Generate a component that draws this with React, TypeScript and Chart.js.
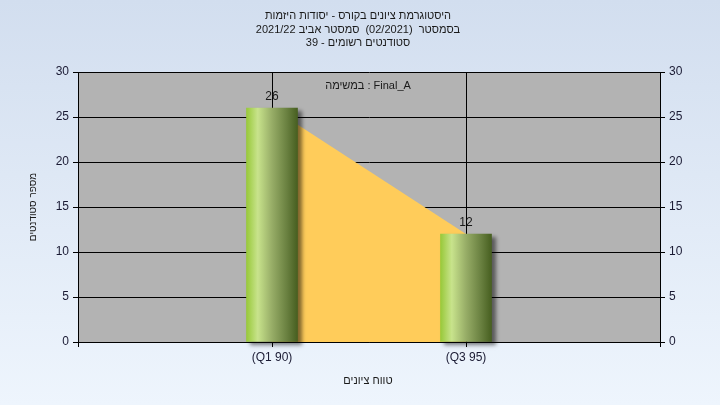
import React, { useEffect, useRef } from 'react';
import { Chart, registerables } from 'chart.js';

Chart.register(...registerables);

const categories: string[] = ['', '(Q1 90)', '(Q3 95)', ''];
const barValues: (number | null)[] = [null, 26, 12, null];
const areaValues: (number | null)[] = [null, 26, 12, null];
const titleLines: string[] = [
  'היסטוגרמת ציונים בקורס - יסודות היזמות',
  'בסמסטר  (02/2021)  סמסטר אביב 2021/22',
  'סטודנטים רשומים - 39',
];
const seriesLabel = 'במשימה : Final_A';
const xTitle = 'טווח ציונים';
const yTitle = 'מספר סטודנטים';
const yMin = 0;
const yMax = 30;
const yStep = 5;

const FONT = '"Liberation Sans", Arial, sans-serif';
const TEXT = '#1a1a1a';
const TICK = '#1a1a33';

const decorPlugin = {
  id: 'decor',
  beforeDraw(chart: any) {
    const { ctx, chartArea: a } = chart;
    ctx.save();
    ctx.fillStyle = '#b3b3b3';
    ctx.fillRect(a.left, a.top, a.right - a.left, a.bottom - a.top);
    ctx.restore();
  },
  beforeDatasetDraw(chart: any, args: any) {
    if (args.index !== 0) return;
    const ctx = chart.ctx;
    ctx.save();
    ctx.shadowColor = 'rgba(0,0,0,0.5)';
    ctx.shadowOffsetX = 4;
    ctx.shadowOffsetY = 3;
    ctx.shadowBlur = 4;
  },
  afterDatasetDraw(chart: any, args: any) {
    if (args.index !== 0) return;
    chart.ctx.restore();
  },
  afterDraw(chart: any) {
    const { ctx, chartArea: a } = chart;
    ctx.save();
    ctx.fillStyle = TEXT;
    ctx.textAlign = 'center';
    ctx.textBaseline = 'middle';
    ctx.font = `11px ${FONT}`;
    ctx.direction = 'rtl';
    const tys = [16, 30, 43];
    titleLines.forEach((t, i) => ctx.fillText(t, 358, tys[i]));
    ctx.fillText(xTitle, 368, 381);
    ctx.save();
    ctx.font = `10px ${FONT}`;
    ctx.translate(33, (a.top + a.bottom) / 2);
    ctx.rotate(-Math.PI / 2);
    ctx.fillText(yTitle, 0, 0);
    ctx.restore();
    ctx.direction = 'ltr';
    ctx.fillText(seriesLabel, 368, 86);
    ctx.font = `12px ${FONT}`;
    const meta = chart.getDatasetMeta(0);
    meta.data.forEach((el: any, i: number) => {
      const v = barValues[i];
      if (v == null) return;
      ctx.fillText(String(v), el.x, el.y - 11);
    });
    ctx.restore();
  },
};

export default function App() {
  const ref = useRef<HTMLCanvasElement | null>(null);
  useEffect(() => {
    document.body.style.margin = '0';
    const canvas = ref.current!;
    const chart = new Chart(canvas, {
      type: 'bar',
      data: {
        labels: categories,
        datasets: [
          {
            type: 'bar',
            data: barValues as any,
            barThickness: 51,
            order: 1,
            clip: false as any,
            yAxisID: 'y',
            backgroundColor: (c: any) => {
              const ch = c.chart;
              const xs = ch.scales?.x;
              if (!xs || c.dataIndex == null) return '#9c3';
              const cx = xs.getPixelForValue(c.dataIndex);
              if (!isFinite(cx)) return '#9c3';
              const g = ch.ctx.createLinearGradient(cx - 25.5, 0, cx + 25.5, 0);
              g.addColorStop(0, '#98c93a');
              g.addColorStop(0.22, '#c8e38c');
              g.addColorStop(0.5, '#97ad67');
              g.addColorStop(0.8, '#687f3f');
              g.addColorStop(1, '#475f20');
              return g;
            },
            borderWidth: 0,
          } as any,
          {
            type: 'line',
            data: areaValues as any,
            order: 2,
            yAxisID: 'y',
            fill: 'origin',
            backgroundColor: '#ffcc5a',
            borderColor: '#ffcc5a',
            borderWidth: 0,
            pointRadius: 0,
            tension: 0,
          } as any,
        ],
      },
      options: {
        animation: false,
        responsive: true,
        maintainAspectRatio: false,
        layout: { padding: { top: 72, left: 0, right: 0, bottom: 0 } },
        plugins: {
          legend: { display: false },
          title: { display: false },
          tooltip: { enabled: false },
        },
        events: [],
        scales: {
          x: {
            type: 'category',
            offset: false,
            grid: { color: '#000', offset: false, tickLength: 5, lineWidth: 1 },
            border: { color: '#000' },
            ticks: {
              color: TICK,
              font: { family: FONT, size: 12 },
              padding: 3,
              autoSkip: false,
              maxRotation: 0,
            },
            afterFit: (s: any) => {
              s.height = 63;
            },
          },
          y: {
            position: 'left',
            min: yMin,
            max: yMax,
            grid: { color: '#000', tickLength: 5, lineWidth: 1 },
            border: { color: '#000' },
            ticks: {
              stepSize: yStep,
              color: TICK,
              font: { family: FONT, size: 12 },
              padding: 4,
            },
            afterFit: (s: any) => {
              s.width = 78;
            },
          },
          y1: {
            position: 'right',
            min: yMin,
            max: yMax,
            grid: { color: '#000', tickLength: 5, drawOnChartArea: false },
            border: { color: '#000' },
            ticks: {
              stepSize: yStep,
              color: TICK,
              font: { family: FONT, size: 12 },
              padding: 4,
            },
            afterFit: (s: any) => {
              s.width = 60;
            },
          },
        },
      } as any,
      plugins: [decorPlugin],
    });
    return () => chart.destroy();
  }, []);

  return (
    <div
      style={{
        position: 'fixed',
        left: 0,
        top: 0,
        width: 720,
        height: 405,
        background: 'linear-gradient(to bottom, #d2deef, #eef5fd)',
      }}
    >
      <canvas ref={ref} style={{ width: 720, height: 405 }} />
    </div>
  );
}
